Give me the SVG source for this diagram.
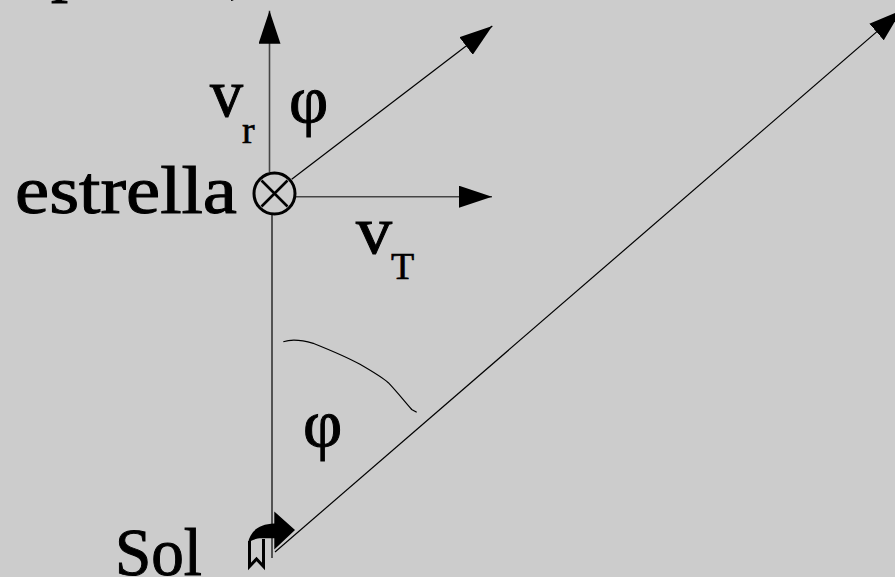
<svg xmlns="http://www.w3.org/2000/svg" width="895" height="577" viewBox="0 0 895 577">
  <defs>
    <style>
      .lbl { font-family: "Liberation Serif", "DejaVu Serif", serif; fill: #000; stroke: #000; stroke-width: 1; }
      .big { font-size: 68px; }
      .sub { font-size: 38px; stroke-width: 0.6; }
      .ln { fill: none; stroke: #000; stroke-width: 1.2; }
      .gray { fill: none; stroke: #444; stroke-width: 1.6; }
    </style>
    <marker id="arr" viewBox="0 0 33 22" refX="33" refY="11" markerWidth="33" markerHeight="22" markerUnits="userSpaceOnUse" orient="auto">
      <path d="M0,0 L33,11 L0,22 Z" fill="#000"/>
    </marker>
  </defs>
  <rect x="0" y="0" width="895" height="577" fill="#cccccc"/>

  <g id="top-text">
    <text class="lbl big" x="51" y="-11">p</text>
    <text class="lbl big" x="229" y="-10">,</text>
  </g>

  <g id="connectors">
    <line class="gray" x1="269.5" y1="172" x2="269.5" y2="10.7" marker-end="url(#arr)"/>
    <line class="ln" x1="272" y1="215" x2="272" y2="558" stroke-width="1.6"/>
    <line class="gray" x1="296" y1="196.7" x2="492" y2="196.7" marker-end="url(#arr)"/>
    <line class="ln" x1="291.7" y1="179.3" x2="492.3" y2="26" marker-end="url(#arr)"/>
    <line class="ln" x1="275" y1="552" x2="901.5" y2="10.4" marker-end="url(#arr)"/>
    <path class="ln" stroke="#222" d="M283.3,341.7 C290,339.5 300,339.5 313.3,343.3 C330,350 345,356 360,364.3 C375,373 383,378 388.3,382.7 C398,393 405,402 411.7,409.5 L416.7,412.3"/>
  </g>

  <g id="estrella">
    <text class="lbl big" x="15" y="213" textLength="222" lengthAdjust="spacingAndGlyphs">estrella</text>
    <circle cx="274.5" cy="193.5" r="20.5" fill="none" stroke="#000" stroke-width="3"/>
    <path d="M261.5,180.5 L287.5,206.5 M287.5,180.5 L261.5,206.5" stroke="#000" stroke-width="2.6"/>
  </g>

  <g id="vr">
    <text class="lbl big" x="210" y="116" textLength="33" lengthAdjust="spacingAndGlyphs">v</text>
    <text class="lbl sub" x="242" y="142.7">r</text>
  </g>

  <g id="phi-top">
    <text class="lbl big" x="289" y="123">φ</text>
  </g>

  <g id="vT">
    <text class="lbl big" x="356" y="253.3" textLength="36" lengthAdjust="spacingAndGlyphs">v</text>
    <text class="lbl sub" x="391" y="279.3">T</text>
  </g>

  <g id="phi-bottom">
    <text class="lbl big" x="303" y="447">φ</text>
  </g>

  <g id="sol">
    <text class="lbl big" x="115" y="575" textLength="87" lengthAdjust="spacingAndGlyphs">Sol</text>
    <path d="M249.5,541 L249.5,566.5 L256.5,559 L263.5,566.5 L263.5,539" fill="none" stroke="#000" stroke-width="3"/>
    <path d="M248,543 C250,532 258,524 274.3,523.5 L274.3,511.5 L295,530 L274.3,549.5 L274.3,538.3 L262,538.3 C256,538.3 252,540 248,543 Z" fill="#000"/>
  </g>
</svg>
